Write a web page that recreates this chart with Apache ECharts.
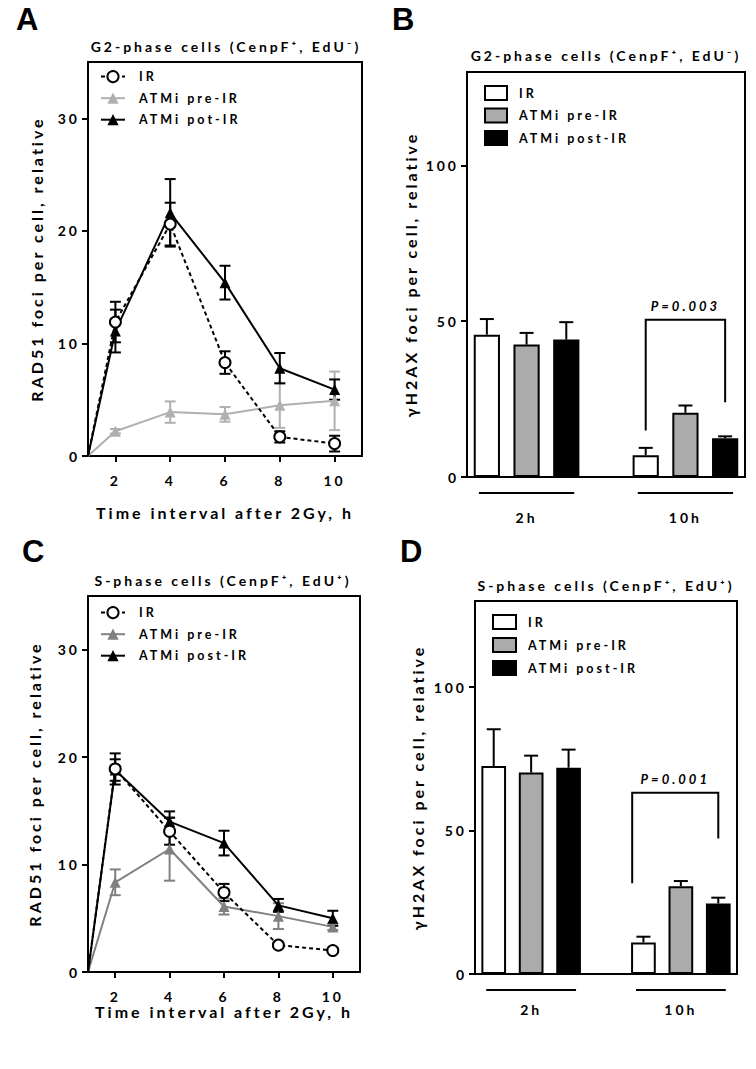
<!DOCTYPE html>
<html><head><meta charset="utf-8">
<script src="https://cdn.jsdelivr.net/npm/echarts@6/dist/echarts.min.js"></script>
<style>
html,body{margin:0;padding:0;background:#fff;}
#c{width:756px;height:1069px;}
#c svg text{letter-spacing:3px;}
</style></head><body><div id="c"></div>
<script>
// ---------------- DATA ----------------
const timeH = [2, 4, 6, 8, 10];
const originPoint = [1, 0];
const yTicksRad = [0, 10, 20, 30];
const yTicksFoci = [0, 50, 100];

// Panel A: G2-phase RAD51 foci
const aIR = [11.9, 20.6, 8.3, 1.7, 1.1];
const aIRerr = [1.8, 1.9, 1.0, 0.5, 0.7];
const aPre = [2.2, 3.9, 3.7, 4.5, 4.9];
const aPreErr = [0.2, 0.95, 0.65, 2.0, 2.6];
const aPost = [11.1, 21.6, 15.4, 7.8, 5.9];
const aPostErr = [1.9, 3.0, 1.5, 1.35, 0.9];

// Panel C: S-phase RAD51 foci
const cIR = [18.9, 13.1, 7.4, 2.5, 2.0];
const cIRerr = [1.45, 1.25, 0.8, 0.2, 0.2];
const cPre = [8.35, 11.45, 6.1, 5.2, 4.2];
const cPreErr = [1.2, 2.95, 0.75, 1.2, 0.3];
const cPost = [18.8, 14.0, 12.0, 6.2, 5.0];
const cPostErr = [1.0, 0.95, 1.15, 0.6, 0.7];

// Panels B / D: gammaH2AX foci (groups 2h, 10h)
const groups = ['2h', '10h'];
const bIR = [45.7, 7.0],  bIRerr = [5.0, 2.35];
const bPre = [42.5, 20.6], bPreErr = [3.75, 2.35];
const bPost = [44.1, 12.4], bPostErr = [5.6, 0.65];
const dIR = [72.5, 11.0],  dIRerr = [12.8, 2.0];
const dPre = [70.2, 30.6], dPreErr = [5.9, 1.8];
const dPost = [71.9, 24.6], dPostErr = [6.3, 2.0];
// significance brackets: [leftSlot, rightSlot, leftBottom, top, rightBottom]
const bSig = [4, 6, 14.9, 50.5, 24.0];
const bSigText = 'P=0.003';
const dSig = [3.7, 6, 31.6, 63.2, 47.2];
const dSigText = 'P=0.001';

const namesA = ['IR', 'ATMi pre-IR', 'ATMi pot-IR'];
const namesC = ['IR', 'ATMi pre-IR', 'ATMi post-IR'];
const namesBar = ['IR', 'ATMi pre-IR', 'ATMi post-IR'];
const titleG2 = 'G2-phase cells (CenpF⁺, EdU⁻)';
const titleS = 'S-phase cells (CenpF⁺, EdU⁺)';

// ---------------- BUILD ----------------
const FONT = 'Lato';
const K = '#000';
const slots = ['2h-IR', '2h-pre', '2h-post', 'gap', '10h-IR', '10h-pre', '10h-post'];
const slotOf = (g, s) => g * 4 + s;
const slotLabel = (i) => i === 1 ? groups[0] : (i === 5 ? groups[1] : '');

function strip(n) { return n.split('|')[1]; }
function lineData(vals) {
  return [{ value: originPoint, symbol: 'none' }].concat(timeH.map((t, i) => [t, vals[i]]));
}
function errData(vals, errs) { return timeH.map((t, i) => [t, vals[i], errs[i]]); }
function barData(vals, s) {
  const arr = slots.map(() => '-');
  vals.forEach((v, g) => { arr[slotOf(g, s)] = v; });
  return arr;
}
function barErrData(valsList, errsList) {
  const out = [];
  valsList.forEach((vals, s) => vals.forEach((v, g) => out.push([slotOf(g, s), v, errsList[s][g]])));
  return out;
}
function errRender(color, capHalf, upOnly) {
  return function (params, api) {
    const x = api.value(0), v = api.value(1), e = api.value(2);
    const top = api.coord([x, v + e]);
    const bot = api.coord([x, upOnly ? v : v - e]);
    const st = { stroke: color, lineWidth: 2 };
    const ch = [
      { type: 'line', shape: { x1: top[0], y1: top[1], x2: bot[0], y2: bot[1] }, style: st },
      { type: 'line', shape: { x1: top[0] - capHalf, y1: top[1], x2: top[0] + capHalf, y2: top[1] }, style: st }
    ];
    if (!upOnly) ch.push({ type: 'line', shape: { x1: bot[0] - capHalf, y1: bot[1], x2: bot[0] + capHalf, y2: bot[1] }, style: st });
    return { type: 'group', children: ch };
  };
}
function catX(api, v, y) {
  const lo = Math.floor(v), hi = Math.ceil(v);
  const a = api.coord([lo, y]), b = api.coord([hi, y]);
  return a[0] + (b[0] - a[0]) * (v - lo);
}
function groupLineRender(params, api) {
  const s = api.value(0), e = api.value(1);
  const a = api.coord([s, 0]), b = api.coord([e, 0]);
  const bw = api.size([1, 0])[0];
  const y = a[1] + 16;
  return { type: 'line', shape: { x1: a[0] - 0.2 * bw, y1: y, x2: b[0] + 0.2 * bw, y2: y }, style: { stroke: K, lineWidth: 2 } };
}
function sigRender(text) {
  return function (params, api) {
    const l = api.value(0), r = api.value(1);
    const yl = api.value(2), yt = api.value(3), yr = api.value(4);
    const xl = catX(api, l, yt), xr = catX(api, r, yt);
    const pl = api.coord([Math.round(l), yl])[1], pt = api.coord([Math.round(l), yt])[1], pr = api.coord([Math.round(r), yr])[1];
    return {
      type: 'group', children: [
        { type: 'polyline', shape: { points: [[xl, pl], [xl, pt], [xr, pt], [xr, pr]] }, style: { stroke: K, lineWidth: 2, fill: null } },
        { type: 'text', x: (xl + xr) / 2, y: pt - 14, style: { text: text, fill: K, font: 'italic bold 13px ' + FONT, align: 'center', verticalAlign: 'middle' } }
      ]
    };
  };
}

const axisLine = { lineStyle: { color: K, width: 2 } };
const tickStyle = { lineStyle: { color: K, width: 2 } };
const labelFont = { fontFamily: FONT, fontWeight: 'bold', fontSize: 14, color: K };
const nameFont = { fontFamily: FONT, fontWeight: 'bold', fontSize: 16, color: K };

function lineXAxis(grid, nameGap) {
  return {
    gridIndex: grid, type: 'value', min: 1, max: 11,
    axisLine: axisLine, splitLine: { show: false },
    axisTick: { customValues: timeH, length: 6, lineStyle: tickStyle.lineStyle },
    axisLabel: Object.assign({ customValues: timeH, margin: 17 }, labelFont),
    name: 'Time interval after 2Gy, h', nameLocation: 'middle', nameGap: nameGap, nameTextStyle: nameFont
  };
}
function lineYAxis(grid, nameGap) {
  return {
    gridIndex: grid, type: 'value', min: 0, max: 35,
    axisLine: { show: true, lineStyle: axisLine.lineStyle }, splitLine: { show: false },
    axisTick: { show: true, customValues: yTicksRad, length: 6, lineStyle: tickStyle.lineStyle },
    axisLabel: Object.assign({ customValues: yTicksRad, margin: 8 }, labelFont),
    name: 'RAD51 foci per cell, relative', nameLocation: 'middle', nameGap: nameGap, nameTextStyle: nameFont
  };
}
function barXAxis(grid, margin) {
  return {
    gridIndex: grid, type: 'category', data: slots,
    axisLine: axisLine,
    axisTick: { alignWithLabel: true, interval: 0, length: 6, lineStyle: tickStyle.lineStyle },
    axisLabel: Object.assign({ interval: 0, margin: margin, formatter: (v, i) => slotLabel(i) }, labelFont)
  };
}
function barYAxis(grid, nameGap) {
  return {
    gridIndex: grid, type: 'value', min: 0, max: 130,
    axisLine: { show: true, lineStyle: axisLine.lineStyle }, splitLine: { show: false },
    axisTick: { show: true, customValues: yTicksFoci, length: 6, lineStyle: tickStyle.lineStyle },
    axisLabel: Object.assign({ customValues: yTicksFoci, margin: 8 }, labelFont),
    name: 'γH2AX foci per cell, relative', nameLocation: 'middle', nameGap: nameGap, nameTextStyle: nameFont
  };
}

function lineSeriesSet(p, grid, names, ir, irE, pre, preE, post, postE, preColor) {
  const sym = 11;
  return [
    { type: 'custom', xAxisIndex: grid, yAxisIndex: grid, z: 1, renderItem: errRender(preColor, 5.5, false), data: errData(pre, preE), silent: true },
    { type: 'custom', xAxisIndex: grid, yAxisIndex: grid, z: 1, renderItem: errRender(K, 5.5, false), data: errData(post, postE), silent: true },
    { type: 'custom', xAxisIndex: grid, yAxisIndex: grid, z: 1, renderItem: errRender(K, 5.5, false), data: errData(ir, irE), silent: true },
    { name: p + '|' + names[1], type: 'line', xAxisIndex: grid, yAxisIndex: grid, z: 3, data: lineData(pre),
      symbol: 'triangle', symbolSize: sym, itemStyle: { color: preColor }, lineStyle: { color: preColor, width: 2 } },
    { name: p + '|' + names[2], type: 'line', xAxisIndex: grid, yAxisIndex: grid, z: 3, data: lineData(post),
      symbol: 'triangle', symbolSize: sym, itemStyle: { color: K }, lineStyle: { color: K, width: 2 } },
    { name: p + '|' + names[0], type: 'line', xAxisIndex: grid, yAxisIndex: grid, z: 3, data: lineData(ir),
      symbol: 'emptyCircle', symbolSize: 11, itemStyle: { color: K, borderWidth: 2 }, lineStyle: { color: K, width: 2, type: [4, 3] } }
  ];
}
function barSeriesSet(p, grid, names, vals, errs, sig, sigText) {
  const fills = ['#ffffff', '#ababab', '#000000'];
  const out = vals.map((v, s) => ({
    name: p + '|' + names[s], type: 'bar', xAxisIndex: grid, yAxisIndex: grid,
    data: barData(v, s), barWidth: '66%', barGap: '-100%',
    itemStyle: { color: fills[s], borderColor: K, borderWidth: 2 }
  }));
  out.push({ type: 'custom', xAxisIndex: grid, yAxisIndex: grid, z: 4, renderItem: errRender(K, 7, true), data: barErrData(vals, errs), silent: true });
  out.push({ type: 'custom', xAxisIndex: grid, yAxisIndex: grid, z: 4, clip: false, renderItem: groupLineRender, data: [[0, 2], [4, 6]], silent: true });
  out.push({ type: 'custom', xAxisIndex: grid, yAxisIndex: grid, z: 4, clip: false, renderItem: sigRender(sigText), data: [sig], silent: true });
  return out;
}
function legend(p, names, left, top, gap, isBar, itemW) {
  const l = {
    orient: 'vertical', left: left, top: top, padding: 0, itemGap: gap, selectedMode: false,
    itemWidth: itemW, itemHeight: 14,
    data: names.map(n => p + '|' + n), formatter: strip,
    textStyle: { fontFamily: FONT, fontWeight: 'bold', fontSize: 12.5, color: K, padding: [0, 0, 0, isBar ? 7 : 9] }
  };
  if (isBar) { l.icon = 'rect'; l.itemStyle = { borderColor: K, borderWidth: 2 }; }
  return l;
}
function panelTitle(text, cx, top) {
  return { text: text, left: cx, top: top, padding: 0, textAlign: 'center', textStyle: { fontFamily: FONT, fontWeight: 'bold', fontSize: 14, color: K } };
}
function letter(text, left, top) {
  return { text: text, left: left, top: top, padding: 0, textStyle: { fontFamily: 'Liberation Sans', fontWeight: 'bold', fontSize: 31, color: K } };
}

const gridBase = { show: true, borderColor: K, borderWidth: 2, backgroundColor: 'transparent', containLabel: false, outerBoundsMode: 'none' };
const option = {
  animation: false,
  backgroundColor: '#fff',
  title: [
    letter('A', 16, 4), letter('B', 392, 4), letter('C', 22, 536), letter('D', 400, 536),
    panelTitle(titleG2, 226, 39), panelTitle(titleG2, 606, 48),
    panelTitle(titleS, 223, 573), panelTitle(titleS, 606, 578)
  ],
  grid: [
    Object.assign({ left: 88, top: 62, width: 274, height: 394 }, gridBase),
    Object.assign({ left: 467, top: 72, width: 278, height: 405 }, gridBase),
    Object.assign({ left: 88, top: 596, width: 272, height: 376 }, gridBase),
    Object.assign({ left: 475, top: 601, width: 262, height: 373 }, gridBase)
  ],
  xAxis: [lineXAxis(0, 48), barXAxis(1, 33), lineXAxis(2, 25), barXAxis(3, 28)],
  yAxis: [lineYAxis(0, 44), barYAxis(1, 49), lineYAxis(2, 46), barYAxis(3, 50)],
  legend: [
    legend('A', namesA, 100, 70, 8.5, false, 24),
    legend('B', namesBar, 484, 85, 6.5, true, 22),
    legend('C', namesC, 100, 606, 8.5, false, 24),
    legend('D', namesBar, 492, 614, 7, true, 23)
  ],
  series: [].concat(
    lineSeriesSet('A', 0, namesA, aIR, aIRerr, aPre, aPreErr, aPost, aPostErr, '#b0b0b0'),
    barSeriesSet('B', 1, namesBar, [bIR, bPre, bPost], [bIRerr, bPreErr, bPostErr], bSig, bSigText),
    lineSeriesSet('C', 2, namesC, cIR, cIRerr, cPre, cPreErr, cPost, cPostErr, '#808080'),
    barSeriesSet('D', 3, namesBar, [dIR, dPre, dPost], [dIRerr, dPreErr, dPostErr], dSig, dSigText)
  )
};
const chart = echarts.init(document.getElementById('c'), null, { renderer: 'svg', width: 756, height: 1069 });
chart.setOption(option);
</script></body></html>
